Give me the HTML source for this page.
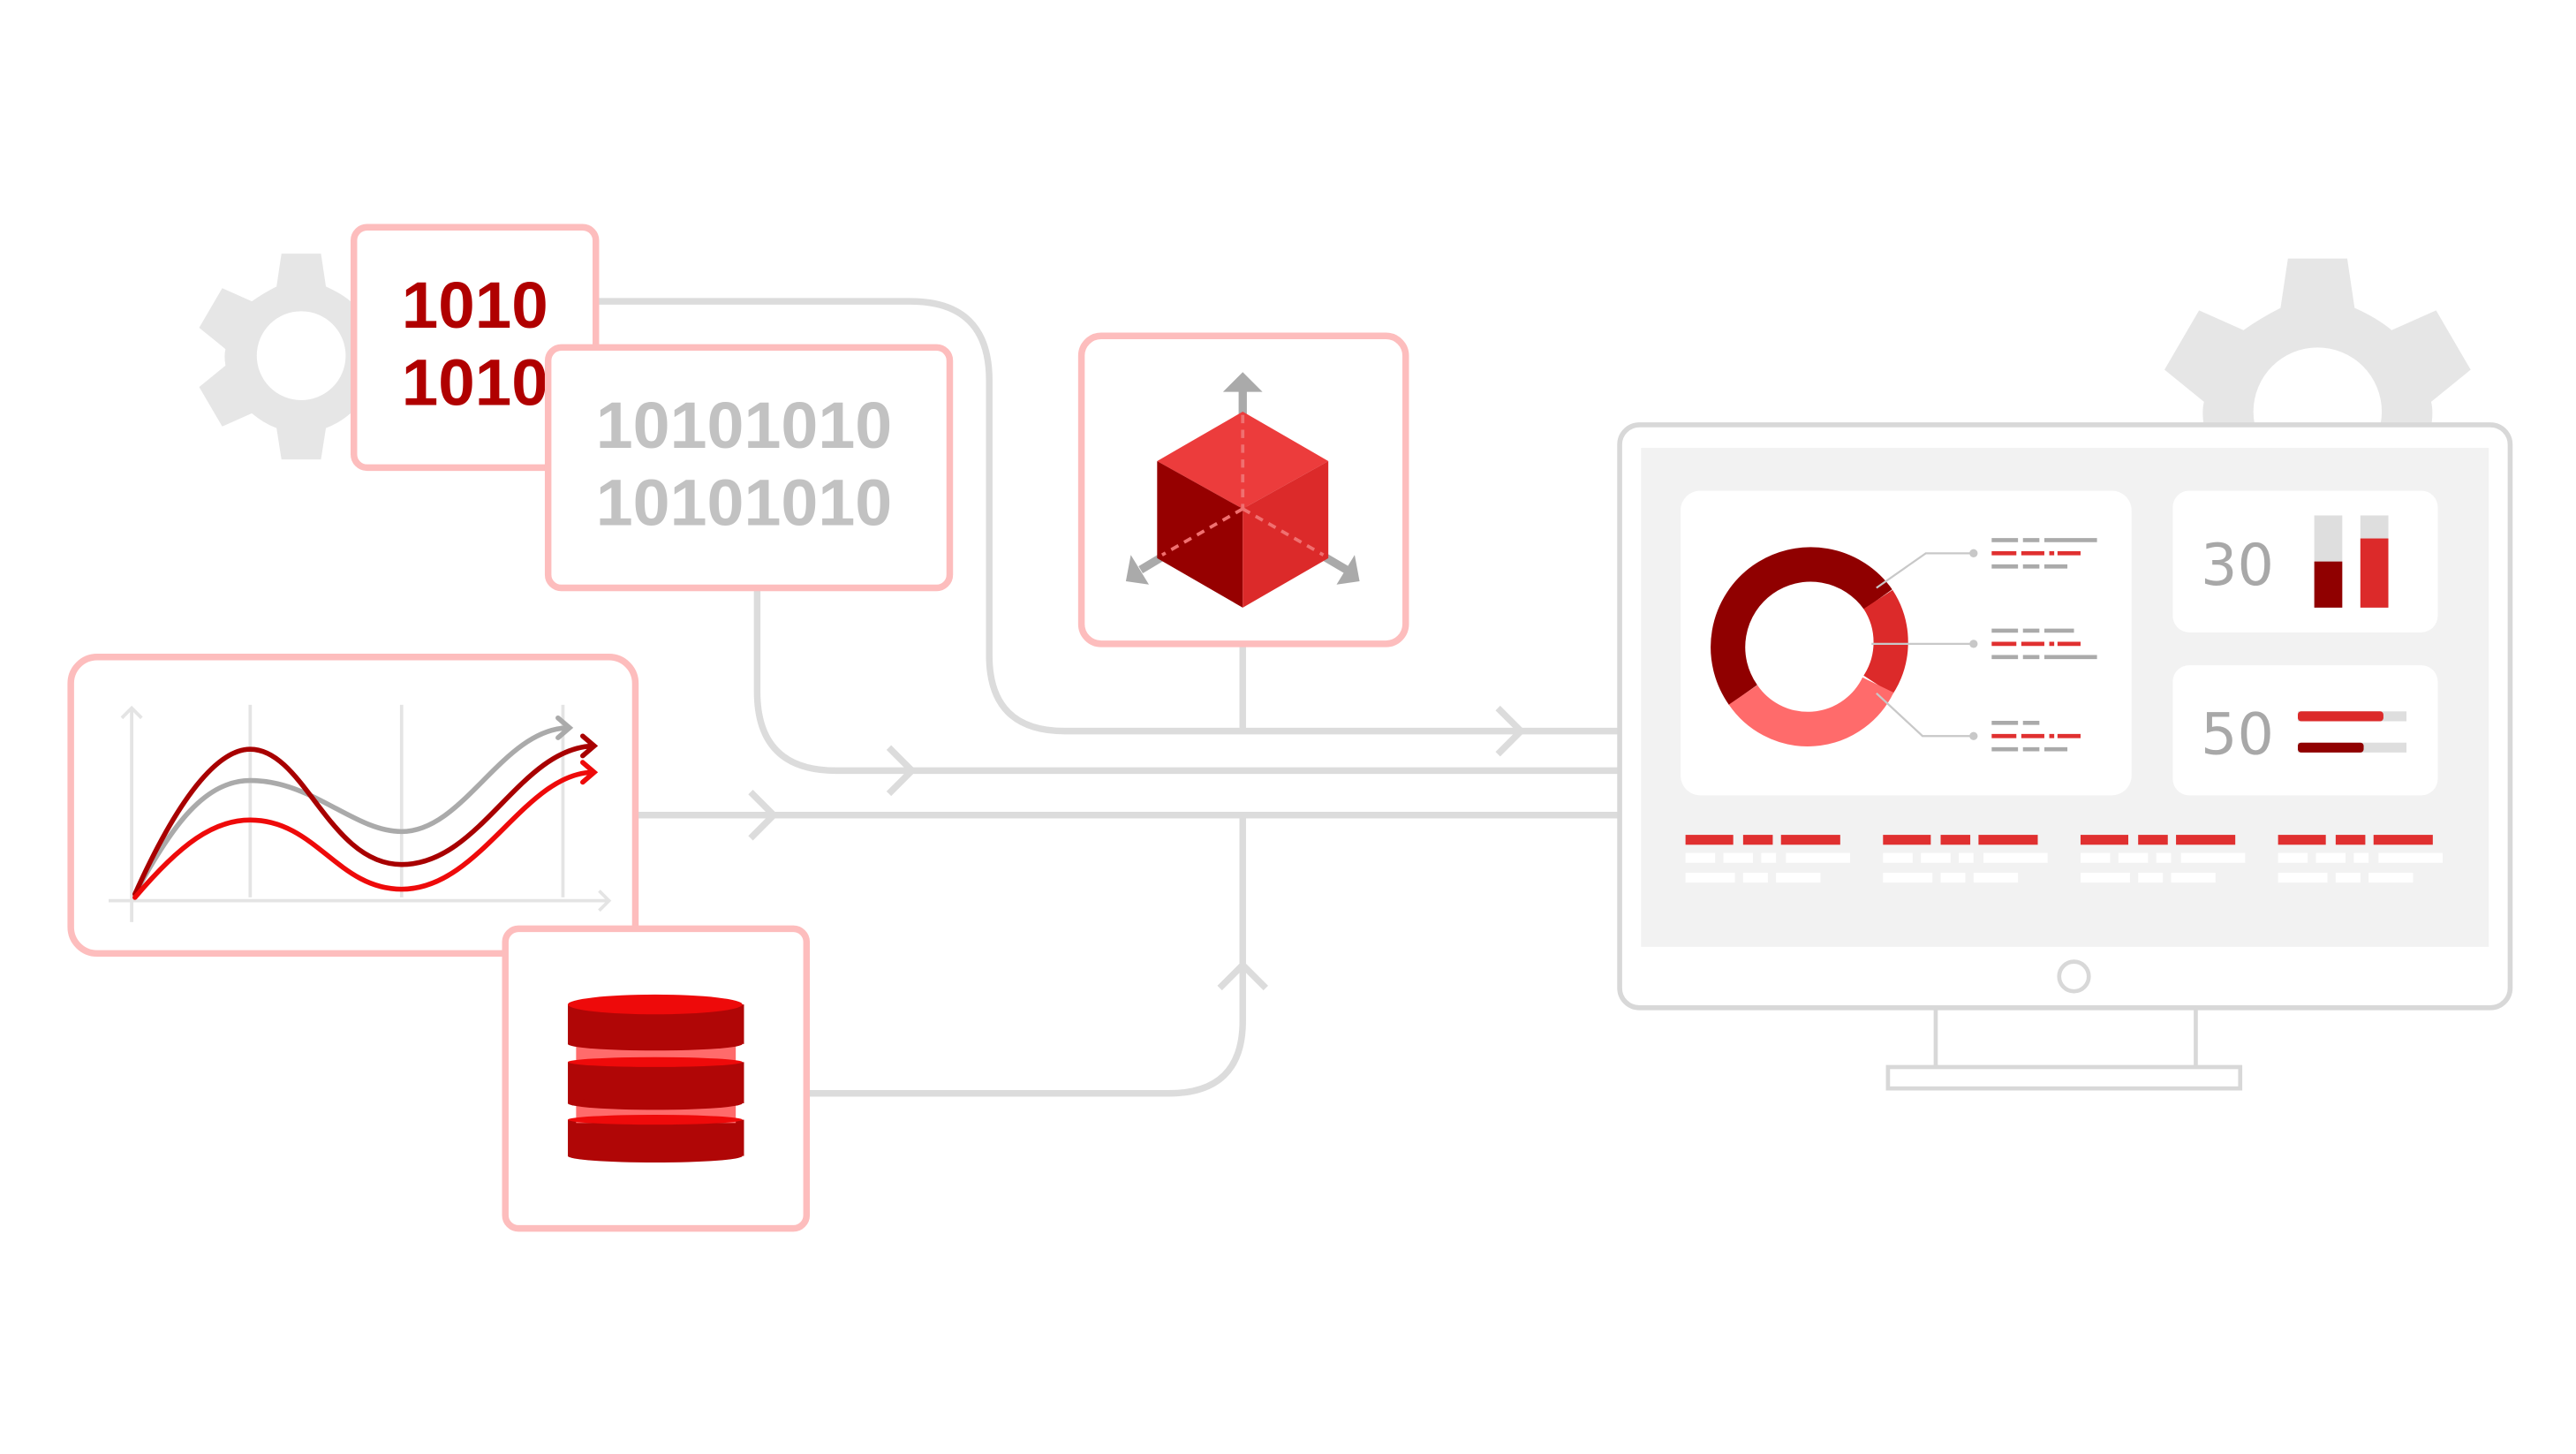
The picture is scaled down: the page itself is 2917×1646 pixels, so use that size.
<!DOCTYPE html>
<html><head><meta charset="utf-8"><style>
html,body{margin:0;padding:0;background:#fff;}
svg{display:block;}
</style></head><body>
<svg width="2917" height="1646" viewBox="0 0 1565 883" preserveAspectRatio="none" xmlns="http://www.w3.org/2000/svg">
<rect width="1565" height="883" fill="#fff"/>
<defs>
<g id="gear">
<path d="M-12,-62 L12,-62 L15,-42 Q24,-38 30,-33 L48,-41 L62,-17 L46,-4 Q47,0 46,6 L62,19 L48,43 L30,35 Q23,41 15,44 L12,63 L-12,63 L-15,44 Q-23,41 -30,35 L-48,43 L-62,19 L-46,6 Q-47,0 -46,-4 L-62,-17 L-48,-41 L-30,-33 Q-23,-38 -15,-42 Z" fill="#e6e6e6"/>
</g>
</defs>
<!-- left gear -->
<g transform="translate(183,216)"><use href="#gear"/><circle r="27" fill="#fff"/></g>
<!-- right gear -->
<g transform="translate(1408,250) scale(1.5)"><use href="#gear"/><circle r="26" fill="#fff"/></g>

<!-- connectors -->
<g fill="none" stroke="#dcdcdc" stroke-width="4">
<path d="M363,183 H553 Q601,183 601,231 V398 Q601,444 647,444 H985"/>
<path d="M460,358 V420 Q460,468 508,468 H985"/>
<path d="M387,495 H985"/>
<path d="M491,664 H710 Q755,664 755,620 V497"/>
<path d="M755,392 V444"/>
<path d="M910,430 L924,444 L910,458"/>
<path d="M540,454 L554,468 L540,482"/>
<path d="M456,481 L470,495 L456,509"/>
<path d="M741,600 L755,586 L769,600"/>
</g>

<!-- box1 -->
<rect x="215" y="138" width="147" height="146" rx="8" fill="#fff" stroke="#fdbdbd" stroke-width="4"/>
<text x="244" y="199" font-family="Liberation Sans, sans-serif" font-weight="bold" font-size="40" fill="#b00000" textLength="89" lengthAdjust="spacingAndGlyphs">1010</text>
<text x="244" y="246" font-family="Liberation Sans, sans-serif" font-weight="bold" font-size="40" fill="#b00000" textLength="89" lengthAdjust="spacingAndGlyphs">1010</text>
<!-- box2 -->
<rect x="333" y="211" width="244" height="146" rx="8" fill="#fff" stroke="#fdbdbd" stroke-width="4"/>
<text x="362" y="272" font-family="Liberation Sans, sans-serif" font-weight="bold" font-size="40" fill="#c2c2c2" textLength="180" lengthAdjust="spacingAndGlyphs">10101010</text>
<text x="362" y="319" font-family="Liberation Sans, sans-serif" font-weight="bold" font-size="40" fill="#c2c2c2" textLength="180" lengthAdjust="spacingAndGlyphs">10101010</text>

<!-- cube box -->
<rect x="657" y="204" width="197" height="187" rx="12" fill="#fff" stroke="#fdbdbd" stroke-width="4"/>
<g fill="#aaa" stroke="#aaa">
<line x1="755" y1="309" x2="755" y2="236" stroke-width="5"/>
<polygon points="743,238 755,226 767,238" stroke="none"/>
<line x1="755" y1="309" x2="693" y2="346" stroke-width="5"/>
<polygon points="687,337 684,353 698,355" stroke="none"/>
<line x1="755" y1="309" x2="818" y2="346" stroke-width="5"/>
<polygon points="823,337 826,353 812,355" stroke="none"/>
</g>
<polygon points="755,250 807,280 755,309 703,280" fill="#ec3c3c"/>
<polygon points="703,280 755,309 755,369 703,339" fill="#960000"/>
<polygon points="807,280 807,339 755,369 755,309" fill="#dc2a2a"/>
<g stroke="#f07070" stroke-width="2" stroke-dasharray="5,4" fill="none">
<line x1="755" y1="252" x2="755" y2="309"/>
<line x1="755" y1="309" x2="706" y2="337"/>
<line x1="755" y1="309" x2="804" y2="337"/>
</g>

<!-- chart box -->
<rect x="43" y="399" width="343" height="180" rx="16" fill="#fff" stroke="#fdbdbd" stroke-width="4"/>
<g stroke="#e4e4e4" stroke-width="2" fill="none">
<line x1="152" y1="428" x2="152" y2="545"/>
<line x1="244" y1="428" x2="244" y2="545"/>
<line x1="342" y1="428" x2="342" y2="545"/>
<line x1="80" y1="430" x2="80" y2="560"/>
<path d="M74,436 L80,430 L86,436"/>
<line x1="66" y1="547" x2="370" y2="547"/>
<path d="M364,541 L370,547 L364,553"/>
</g>
<g fill="none" stroke-width="3" stroke-linecap="round">
<path d="M82,543 C105,500 125,474 152,474 C190,474 215,505 244,505 C282,505 305,443 345,442 M339,436 L346,442 L339,448" stroke="#aaa"/>
<path d="M82,543 C108,485 132,455 152,455 C185,455 200,525 244,525 C292,525 315,455 360,453 M354,447 L361,453 L354,459" stroke="#a80000"/>
<path d="M82,545 C110,512 130,498 152,498 C192,498 205,540 244,540 C292,540 318,470 360,469 M354,463 L361,469 L354,475" stroke="#ee0a0a"/>
</g>

<!-- db box -->
<rect x="307" y="564" width="183" height="182" rx="8" fill="#fff" stroke="#fdbdbd" stroke-width="4"/>
<rect x="345" y="680" width="107" height="22" fill="#b00606"/>
<ellipse cx="398" cy="702" rx="53" ry="4" fill="#b00606"/>
<rect x="350" y="668" width="97" height="14" fill="#ff6b6b"/>
<ellipse cx="398" cy="680" rx="53" ry="3" fill="#ee0a0a"/>
<rect x="345" y="645" width="107" height="25" fill="#b00606"/>
<ellipse cx="398" cy="670" rx="53" ry="4" fill="#b00606"/>
<rect x="350" y="631" width="97" height="14" fill="#ff6b6b"/>
<ellipse cx="398" cy="645" rx="53" ry="3" fill="#ee0a0a"/>
<rect x="345" y="610" width="107" height="24" fill="#b00606"/>
<ellipse cx="398" cy="634" rx="53" ry="4" fill="#b00606"/>
<ellipse cx="398" cy="610" rx="53" ry="6" fill="#ee0a0a"/>

<!-- monitor -->
<rect x="984" y="258" width="541" height="354" rx="12" fill="#fff" stroke="#d8d8d8" stroke-width="3"/>
<rect x="997" y="272" width="515" height="303" fill="#f2f2f2"/>
<circle cx="1260" cy="593" r="9" fill="none" stroke="#d8d8d8" stroke-width="2.5"/>
<g stroke="#d8d8d8" stroke-width="2.5" fill="none">
<line x1="1176" y1="612" x2="1176" y2="648"/>
<line x1="1334" y1="612" x2="1334" y2="648"/>
<rect x="1147" y="648" width="214" height="13"/>
</g>
<rect x="1021" y="298" width="274" height="185" rx="12" fill="#fff"/>
<rect x="1320" y="298" width="161" height="86" rx="10" fill="#fff"/>
<rect x="1320" y="404" width="161" height="79" rx="10" fill="#fff"/>
<!-- donut -->
<g fill="none" stroke-width="21">
<path d="M1059,422 A47.5,47.5 0 1 1 1141,364" stroke="#900000"/>
<path d="M1141,364 A47.5,47.5 0 0 1 1141,416" stroke="#dc2a2a"/>
<path d="M1141,416 A47.5,47.5 0 0 1 1059,422" stroke="#ff6b6b"/>
</g>
<g stroke="#c8c8c8" stroke-width="1.2" fill="none">
<path d="M1140,357 L1170,336 H1199"/>
<path d="M1137,391 H1199"/>
<path d="M1140,421 L1168,447 H1199"/>
</g>
<g fill="#c8c8c8"><circle cx="1199" cy="336" r="2.5"/><circle cx="1199" cy="391" r="2.5"/><circle cx="1199" cy="447" r="2.5"/></g>
<g stroke-width="2.5">
<path d="M1210,328 h16 M1229,328 h10 M1242,328 h32 M1210,344 h16 M1229,344 h10 M1242,344 h14" stroke="#aaa"/>
<path d="M1210,336 h15 M1228,336 h14 M1245,336 h3 M1250,336 h14" stroke="#e03030"/>
<path d="M1210,383 h16 M1229,383 h10 M1242,383 h18 M1210,399 h16 M1229,399 h10 M1242,399 h32" stroke="#aaa"/>
<path d="M1210,391 h15 M1228,391 h14 M1245,391 h3 M1250,391 h14" stroke="#e03030"/>
<path d="M1210,439 h16 M1229,439 h10 M1210,455 h16 M1229,455 h10 M1242,455 h14" stroke="#aaa"/>
<path d="M1210,447 h15 M1228,447 h14 M1245,447 h3 M1250,447 h14" stroke="#e03030"/>
</g>
<!-- card2 -->
<text x="1337" y="355" font-family="DejaVu Sans, Liberation Sans, sans-serif" font-size="35" fill="#a8a8a8">30</text>
<rect x="1406" y="313" width="17" height="56" fill="#dedede"/>
<rect x="1406" y="341" width="17" height="28" fill="#900000"/>
<rect x="1434" y="313" width="17" height="56" fill="#dedede"/>
<rect x="1434" y="327" width="17" height="42" fill="#dc2a2a"/>
<!-- card3 -->
<text x="1337" y="458" font-family="DejaVu Sans, Liberation Sans, sans-serif" font-size="35" fill="#a8a8a8">50</text>
<rect x="1396" y="432" width="66" height="6" fill="#dedede"/>
<rect x="1396" y="432" width="52" height="6" rx="2" fill="#dc2a2a"/>
<rect x="1396" y="451" width="66" height="6" fill="#dedede"/>
<rect x="1396" y="451" width="40" height="6" rx="2" fill="#900000"/>
<!-- bottom text blocks -->
<g id="tb">
<rect x="1024" y="507" width="29" height="6" fill="#e03030"/>
<rect x="1059" y="507" width="18" height="6" fill="#e03030"/>
<rect x="1082" y="507" width="36" height="6" fill="#e03030"/>
<rect x="1024" y="518" width="18" height="6" fill="#fff"/>
<rect x="1047" y="518" width="18" height="6" fill="#fff"/>
<rect x="1070" y="518" width="9" height="6" fill="#fff"/>
<rect x="1085" y="518" width="39" height="6" fill="#fff"/>
<rect x="1024" y="530" width="30" height="6" fill="#fff"/>
<rect x="1059" y="530" width="15" height="6" fill="#fff"/>
<rect x="1079" y="530" width="27" height="6" fill="#fff"/>
</g>
<use href="#tb" x="120"/>
<use href="#tb" x="240"/>
<use href="#tb" x="360"/>
</svg>
</body></html>
